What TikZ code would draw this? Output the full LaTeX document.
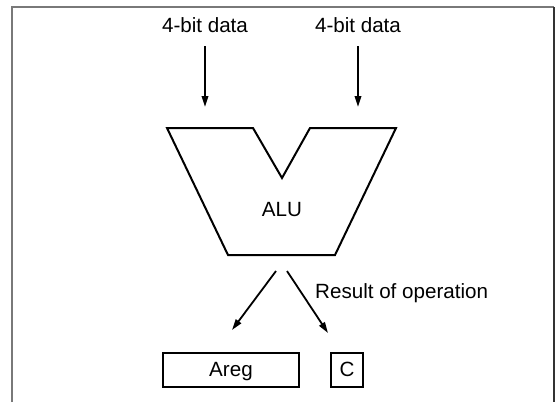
\documentclass[tikz,border=0pt]{standalone}
\usepackage{fontspec}
\setmainfont{Liberation Sans}
\usetikzlibrary{arrows.meta}
\begin{document}
\begin{tikzpicture}[x=1pt,y=-1pt,
  lbl/.style={font=\fontsize{20.6}{24}\selectfont, inner sep=0pt},
  arr/.style={line width=1.8pt, -{Triangle[length=11pt,width=6.5pt]}},
  regbox/.style={draw, line width=2pt, inner sep=0pt, font=\fontsize{20.6}{24}\selectfont, text height=14.7pt, text depth=0pt},
  shapeline/.style={draw, line width=2pt, line join=miter}]
\useasboundingbox (0,0) rectangle (556,402);
% frame
\draw[gray!95!black, line width=2pt] (12,402) -- (12,7) -- (554,7);
\draw[black!80, line width=1.5pt] (554,7) -- (554,402);
% input labels
\node[lbl, anchor=base] (d1) at (205,32.5) {4-bit data};
\node[lbl, anchor=base] (d2) at (358,32.5) {4-bit data};
\coordinate (i1s) at (205,46);
\coordinate (i1e) at (205,107);
\coordinate (i2s) at (358,46);
\coordinate (i2e) at (358,107);
\draw[arr] (i1s) -- (i1e);
\draw[arr] (i2s) -- (i2e);
% ALU shape
\draw[shapeline] (167,128) -- (253,128) -- (282,178) -- (310,128) -- (396,128) -- (335,255) -- (228,255) -- cycle;
\node[lbl, anchor=base] (alu) at (282,216) {ALU};
% outputs
\coordinate (o1s) at (276,271);
\coordinate (o1e) at (232,330);
\coordinate (o2s) at (287,271);
\coordinate (o2e) at (328,333);
\draw[arr] (o1s) -- (o1e);
\draw[arr] (o2s) -- (o2e);
\node[lbl, anchor=base west] (res) at (315,298) {Result of operation};
% registers
\node[regbox, minimum width=136pt, minimum height=34pt] (areg) at (231,369.5) {Areg};
\node[regbox, minimum width=32pt, minimum height=34pt] (c) at (347,369.5) {C};
\end{tikzpicture}
\end{document}
